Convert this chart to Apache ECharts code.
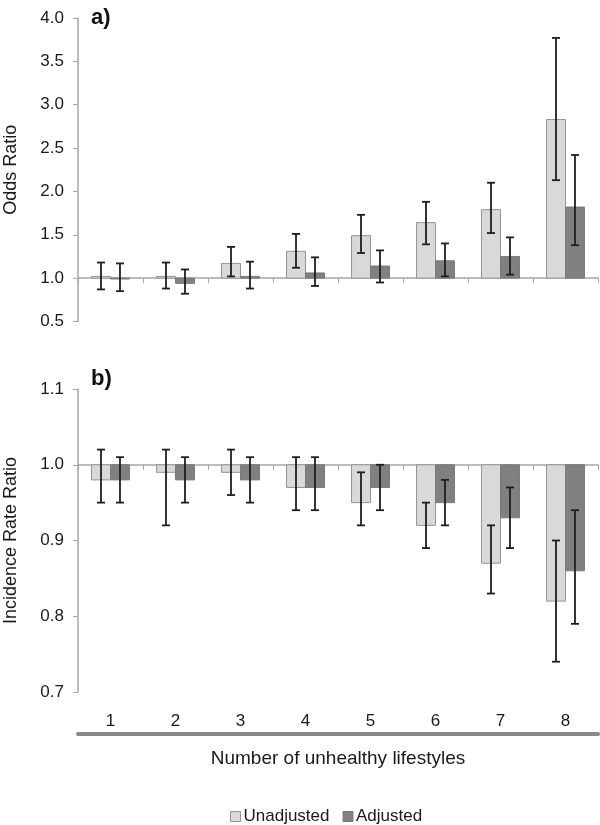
<!DOCTYPE html>
<html><head><meta charset="utf-8">
<script src="https://cdn.jsdelivr.net/npm/echarts/dist/echarts.min.js"></script>
<style>html,body{margin:0;padding:0;background:#fff}#c{width:600px;height:825px}</style>
</head><body><div id="c"></div>
<script>
const categories = ['1','2','3','4','5','6','7','8'];

// Panel a) Odds Ratio
const orUnadj   = [1.02, 1.02, 1.17, 1.31, 1.49, 1.64, 1.79, 2.83];
const orUnadjLo = [0.87, 0.88, 1.02, 1.12, 1.29, 1.39, 1.52, 2.13];
const orUnadjHi = [1.18, 1.18, 1.36, 1.51, 1.73, 1.88, 2.10, 3.77];
const orAdj     = [0.99, 0.94, 1.02, 1.06, 1.14, 1.20, 1.25, 1.82];
const orAdjLo   = [0.85, 0.82, 0.88, 0.91, 0.95, 1.02, 1.04, 1.38];
const orAdjHi   = [1.17, 1.10, 1.19, 1.24, 1.32, 1.40, 1.47, 2.42];

// Panel b) Incidence Rate Ratio
const irrUnadj   = [0.98, 0.99, 0.99, 0.97, 0.95, 0.92, 0.87, 0.82];
const irrUnadjLo = [0.95, 0.92, 0.96, 0.94, 0.92, 0.89, 0.83, 0.74];
const irrUnadjHi = [1.02, 1.02, 1.02, 1.01, 0.99, 0.95, 0.92, 0.90];
const irrAdj     = [0.98, 0.98, 0.98, 0.97, 0.97, 0.95, 0.93, 0.86];
const irrAdjLo   = [0.95, 0.95, 0.95, 0.94, 0.94, 0.92, 0.89, 0.79];
const irrAdjHi   = [1.01, 1.01, 1.01, 1.01, 1.00, 0.98, 0.97, 0.94];

const yTicksA = {min: 0.5, max: 4.0, interval: 0.5};
const yTicksB = {min: 0.7, max: 1.1, interval: 0.1};
const baseline = 1.0;

const FONT = '"Liberation Sans", Arial, sans-serif';
const UNADJ_FILL = '#d9d9d9', UNADJ_BORDER = '#959595';
const ADJ_FILL = '#808080', ADJ_BORDER = '#7a7a7a';
const AXIS_GRAY = '#a6a6a6';

const gridA = {left: 78, width: 520, top: 18, height: 303.5, containLabel: false, outerBoundsMode: 'none'};
const gridB = {left: 78, width: 520, top: 389, height: 303, containLabel: false, outerBoundsMode: 'none'};

function rows(v, lo, hi) { return v.map((x, i) => [i, x, lo[i], hi[i]]); }

function makeRender(side, fill, stroke) {
  return function (params, api) {
    const i = api.value(0);
    const v = api.value(1), lo = api.value(2), hi = api.value(3);
    const base = api.coord([i, baseline]);
    const top = api.coord([i, v]);
    const catW = api.size([1, 0])[0];
    const bw = catW * 0.292;
    const x0 = side < 0 ? base[0] - bw : base[0];
    const y0 = Math.min(base[1], top[1]);
    const h = Math.abs(base[1] - top[1]);
    const cx = x0 + bw / 2;
    const pLo = api.coord([i, lo])[1], pHi = api.coord([i, hi])[1];
    const cap = 4;
    const es = {stroke: '#1e1e1e', lineWidth: 1.8};
    return {type: 'group', children: [
      {type: 'rect', shape: {x: x0, y: y0, width: bw, height: h}, style: {fill: fill, stroke: stroke, lineWidth: 1}},
      {type: 'line', shape: {x1: cx, y1: pLo, x2: cx, y2: pHi}, style: es},
      {type: 'line', shape: {x1: cx - cap, y1: pLo, x2: cx + cap, y2: pLo}, style: es},
      {type: 'line', shape: {x1: cx - cap, y1: pHi, x2: cx + cap, y2: pHi}, style: es}
    ]};
  };
}

function valueAxis(grid, t, name) {
  return {
    type: 'value', gridIndex: grid, min: t.min, max: t.max, interval: t.interval,
    axisLine: {show: true, lineStyle: {color: AXIS_GRAY, width: 1.5}},
    axisTick: {show: true, length: 5, lineStyle: {color: AXIS_GRAY, width: 1}},
    splitLine: {show: false},
    axisLabel: {fontSize: 17, color: '#1a1a1a', fontFamily: FONT, margin: 14,
      formatter: v => v.toFixed(1)},
    name: name, nameLocation: 'middle', nameGap: 58,
    nameTextStyle: {fontSize: 18, color: '#1a1a1a', fontFamily: FONT}
  };
}

function baseAxis(grid, g, t) {
  const off = -g.height * (baseline - t.min) / (t.max - t.min);
  return {
    type: 'category', gridIndex: grid, data: categories, position: 'bottom', offset: off,
    axisLine: {show: true, onZero: false, lineStyle: {color: AXIS_GRAY, width: 1.5}},
    axisTick: {show: true, length: 5, lineStyle: {color: AXIS_GRAY, width: 1}},
    axisLabel: {show: false}, splitLine: {show: false}
  };
}

const chart = echarts.init(document.getElementById('c'), null, {renderer: 'canvas'});
chart.setOption({
  backgroundColor: '#ffffff',
  animation: false,
  textStyle: {fontFamily: FONT},
  grid: [gridA, gridB],
  graphic: [
    {type: 'text', left: 91, top: 7, style: {text: 'a)', font: 'bold 22px ' + FONT, fill: '#111'}},
    {type: 'text', left: 91, top: 368, style: {text: 'b)', font: 'bold 22px ' + FONT, fill: '#111'}}
  ],
  legend: {
    left: 225, top: 803, itemWidth: 10, itemHeight: 10, itemGap: 13,
    textStyle: {fontSize: 17, color: '#1a1a1a', fontFamily: FONT, padding: [0, 0, 0, -2]},
    data: [
      {name: 'Unadjusted', icon: 'rect', itemStyle: {color: UNADJ_FILL, borderColor: UNADJ_BORDER, borderWidth: 1}},
      {name: 'Adjusted', icon: 'rect', itemStyle: {color: ADJ_FILL, borderColor: ADJ_BORDER, borderWidth: 1}}
    ]
  },
  xAxis: [
    baseAxis(0, gridA, yTicksA),
    baseAxis(1, gridB, yTicksB),
    {
      type: 'category', gridIndex: 1, data: categories, position: 'bottom', offset: 42,
      axisLine: {show: true, onZero: false, lineStyle: {color: '#8a8a8a', width: 4}},
      axisTick: {show: false},
      axisLabel: {inside: true, fontSize: 17, color: '#1a1a1a', fontFamily: FONT, margin: 4},
      name: 'Number of unhealthy lifestyles', nameLocation: 'middle', nameGap: 15,
      nameTextStyle: {fontSize: 19, color: '#1a1a1a', fontFamily: FONT, verticalAlign: 'top'}
    }
  ],
  yAxis: [
    valueAxis(0, yTicksA, 'Odds Ratio'),
    valueAxis(1, yTicksB, 'Incidence Rate Ratio')
  ],
  series: [
    {type: 'custom', name: 'Unadjusted', xAxisIndex: 0, yAxisIndex: 0,
     itemStyle: {color: UNADJ_FILL, borderColor: UNADJ_BORDER},
     renderItem: makeRender(-1, UNADJ_FILL, UNADJ_BORDER), data: rows(orUnadj, orUnadjLo, orUnadjHi)},
    {type: 'custom', name: 'Adjusted', xAxisIndex: 0, yAxisIndex: 0,
     itemStyle: {color: ADJ_FILL, borderColor: ADJ_BORDER},
     renderItem: makeRender(1, ADJ_FILL, ADJ_BORDER), data: rows(orAdj, orAdjLo, orAdjHi)},
    {type: 'custom', name: 'Unadjusted', xAxisIndex: 1, yAxisIndex: 1,
     itemStyle: {color: UNADJ_FILL, borderColor: UNADJ_BORDER},
     renderItem: makeRender(-1, UNADJ_FILL, UNADJ_BORDER), data: rows(irrUnadj, irrUnadjLo, irrUnadjHi)},
    {type: 'custom', name: 'Adjusted', xAxisIndex: 1, yAxisIndex: 1,
     itemStyle: {color: ADJ_FILL, borderColor: ADJ_BORDER},
     renderItem: makeRender(1, ADJ_FILL, ADJ_BORDER), data: rows(irrAdj, irrAdjLo, irrAdjHi)}
  ]
});
</script>
</body></html>
